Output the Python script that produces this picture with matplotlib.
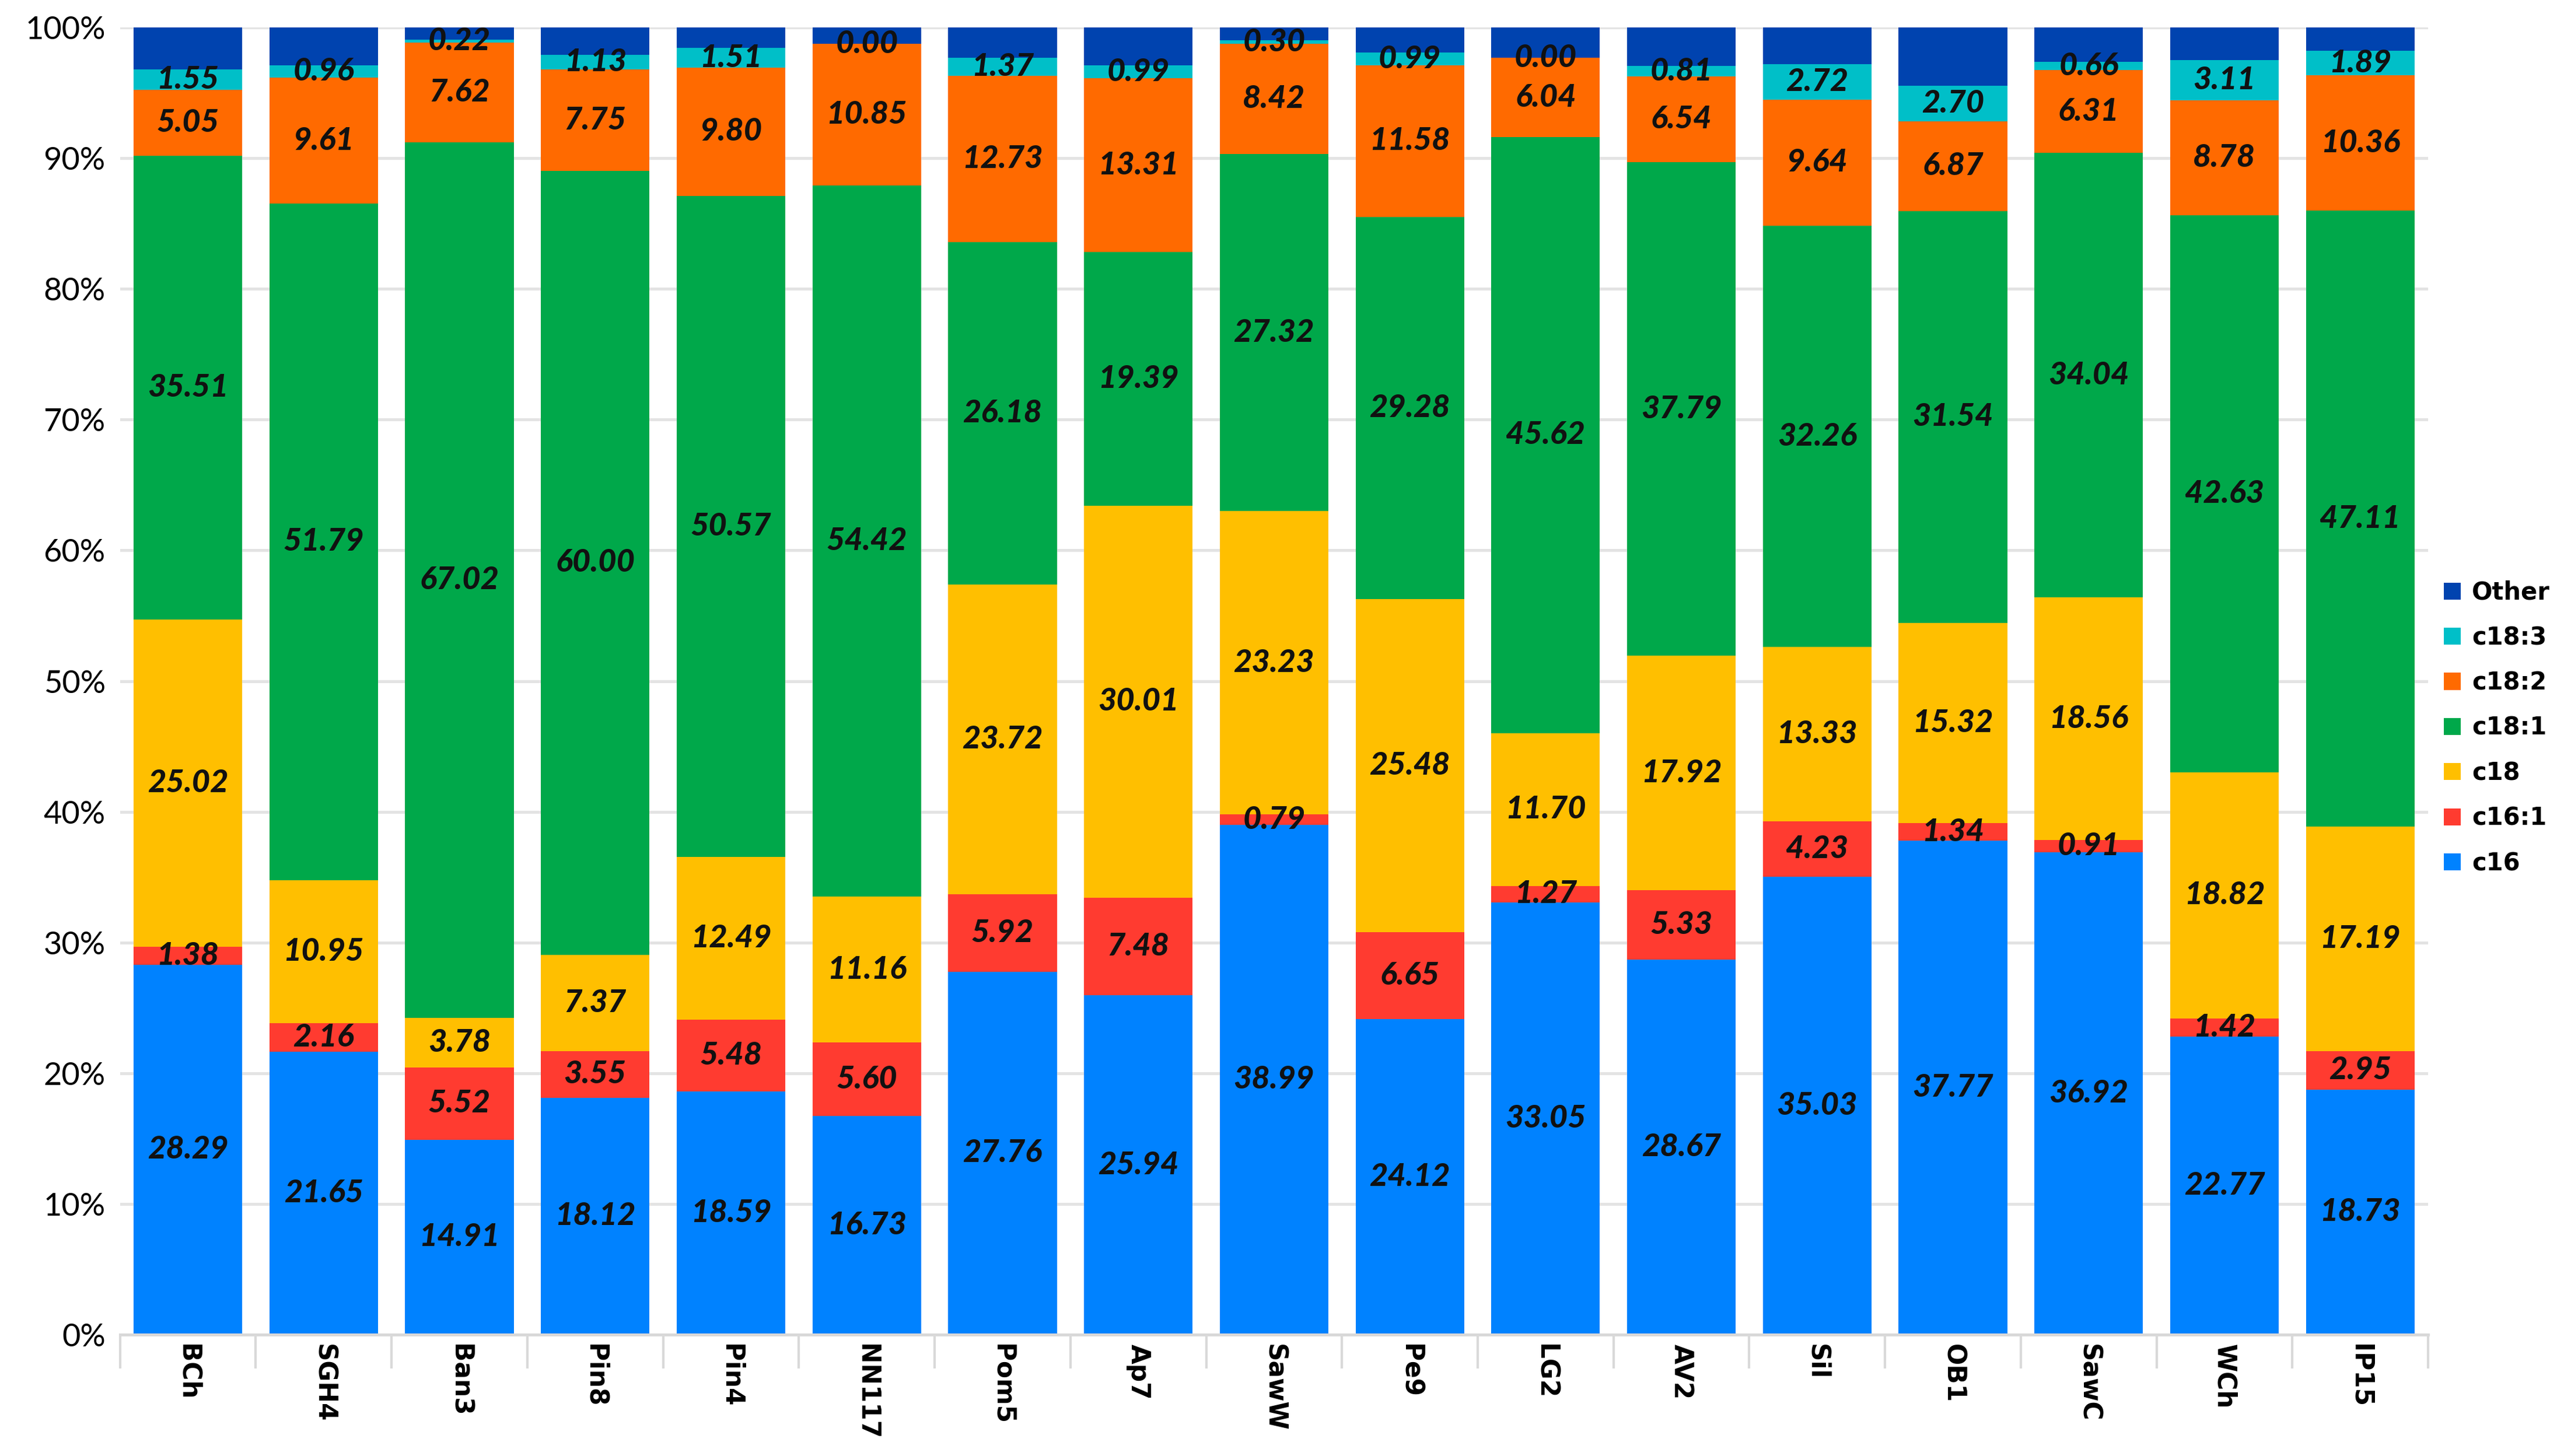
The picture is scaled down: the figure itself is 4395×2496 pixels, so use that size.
import numpy as np
import matplotlib.pyplot as plt
from matplotlib.ticker import PercentFormatter

samples = ["BCh", "SGH4", "Ban3", "Pin8", "Pin4", "NN117", "Pom5", "Ap7", "SawW",
           "Pe9", "LG2", "AV2", "Sil", "OB1", "SawC", "WCh", "IP15"]

c16 = [28.29, 21.65, 14.91, 18.12, 18.59, 16.73, 27.76, 25.94, 38.99,
       24.12, 33.05, 28.67, 35.03, 37.77, 36.92, 22.77, 18.73]
c16_1 = [1.38, 2.16, 5.52, 3.55, 5.48, 5.60, 5.92, 7.48, 0.79,
         6.65, 1.27, 5.33, 4.23, 1.34, 0.91, 1.42, 2.95]
c18 = [25.02, 10.95, 3.78, 7.37, 12.49, 11.16, 23.72, 30.01, 23.23,
       25.48, 11.70, 17.92, 13.33, 15.32, 18.56, 18.82, 17.19]
c18_1 = [35.51, 51.79, 67.02, 60.00, 50.57, 54.42, 26.18, 19.39, 27.32,
         29.28, 45.62, 37.79, 32.26, 31.54, 34.04, 42.63, 47.11]
c18_2 = [5.05, 9.61, 7.62, 7.75, 9.80, 10.85, 12.73, 13.31, 8.42,
         11.58, 6.04, 6.54, 9.64, 6.87, 6.31, 8.78, 10.36]
c18_3 = [1.55, 0.96, 0.22, 1.13, 1.51, 0.00, 1.37, 0.99, 0.30,
         0.99, 0.00, 0.81, 2.72, 2.70, 0.66, 3.11, 1.89]

series = [("c16", c16, "#0082FF"),
          ("c16:1", c16_1, "#FF3B30"),
          ("c18", c18, "#FFBF00"),
          ("c18:1", c18_1, "#00A84A"),
          ("c18:2", c18_2, "#FF6A00"),
          ("c18:3", c18_3, "#00BFC8")]

# the rest up to 100 %
other = 100 - np.sum([s[1] for s in series], axis=0)

label_font = ["Lato", "DejaVu Sans"]

fig = plt.figure(figsize=(14.653, 8.32), dpi=300)
ax = fig.add_axes([0.0468, 0.0835, 0.9, 0.8975])

x = np.arange(len(samples))
bottom = np.zeros(len(samples))
handles = []
for name, vals, col in series:
    vals = np.array(vals)
    b = ax.bar(x, vals, 0.8, bottom=bottom, color=col, label=name, zorder=2)
    handles.append(b)
    for xi, v, bt in zip(x, vals, bottom):
        ax.text(xi, bt + v / 2, f"{v:.2f}", ha="center", va="center",
                fontsize=13, fontweight=900, fontstyle="italic",
                family=label_font, color="#111111", zorder=3)
    bottom += vals
b = ax.bar(x, other, 0.8, bottom=bottom, color="#0043AF", label="Other", zorder=2)
handles.append(b)

ax.set_xlim(-0.5, len(samples) - 0.5)
ax.set_ylim(0, 100)
ax.set_yticks(np.arange(0, 101, 10))
ax.yaxis.set_major_formatter(PercentFormatter(decimals=0))
for lab in ax.get_yticklabels():
    lab.set_family(label_font)
    lab.set_fontsize(13)
ax.tick_params(axis="y", length=0, pad=6)

ax.set_xticks(x)
ax.set_xticklabels(samples, rotation=270, fontweight="bold", fontsize=10.5,
                   family="DejaVu Sans")
ax.set_xticks(np.arange(-0.5, len(samples)), minor=True)
ax.tick_params(axis="x", which="major", length=0, pad=4)
ax.tick_params(axis="x", which="minor", length=14, color="#D9D9D9", width=1)

ax.grid(axis="y", color="#E3E3E3", linewidth=1.2, zorder=0)
for s in ["top", "right", "left"]:
    ax.spines[s].set_visible(False)
ax.spines["bottom"].set_color("#D9D9D9")
ax.spines["bottom"].set_linewidth(1.2)

leg = fig.legend(handles[::-1], [h.get_label() for h in handles[::-1]],
                 loc="center left", bbox_to_anchor=(0.953, 0.5), frameon=False,
                 prop={"weight": "bold", "size": 10, "family": "DejaVu Sans"},
                 handlelength=0.7, handleheight=0.7, labelspacing=0.85,
                 handletextpad=0.45, borderpad=0, borderaxespad=0)

fig.savefig("out.png")
